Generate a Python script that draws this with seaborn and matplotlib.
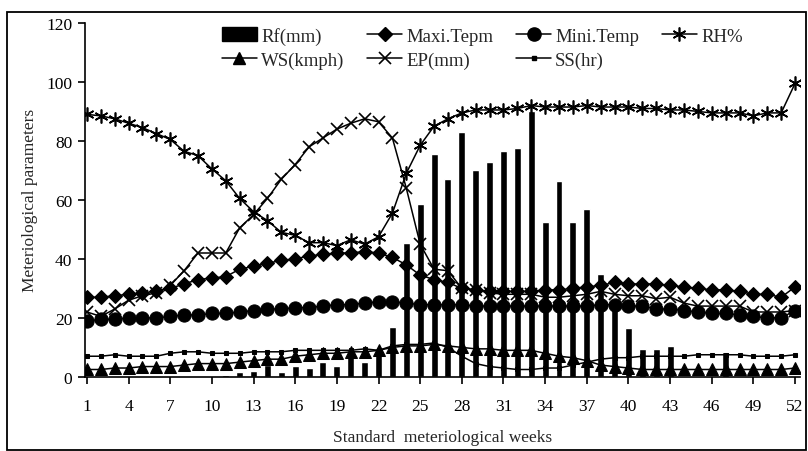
import matplotlib
matplotlib.use("Agg")
import matplotlib.pyplot as plt
from matplotlib.patches import Rectangle, Patch
from matplotlib.lines import Line2D
import seaborn as sns
import numpy as np

weeks = list(range(1, 53))

rf = [0, 0, 0, 0, 0, 0, 0, 0, 0, 0, 0.5, 1.5, 2, 4, 1.5, 3.8, 3, 5, 3.8, 8.5,
      5, 9, 17, 45.5, 58.5, 75.5, 67, 83, 70, 73, 76.5, 77.5, 90, 52.5, 66.5, 52.5,
      57, 35, 24, 16.5, 9.5, 9.5, 10.3, 0, 0, 0, 8.6, 0, 0, 0, 0, 0]

max_t = [27, 27, 27.5, 28, 28.5, 29, 30, 31.5, 33, 33.5, 34, 36.5, 37.5, 38.5, 39.5, 40,
         41, 41.5, 42, 42, 42.5, 42, 40.5, 38, 34.5, 33, 32, 30, 29.5, 29, 29, 29, 29,
         29.5, 29.5, 30, 30.5, 31, 32, 31.5, 31.5, 31.5, 31, 30.5, 30, 29.5, 29.5, 29,
         28, 28, 27, 30.5]

min_t = [19, 19.5, 19.5, 20, 20, 20, 20.5, 21, 21, 21.5, 21.5, 22, 22.5, 23, 23, 23.5,
         23.5, 24, 24.5, 24.5, 25, 25.5, 25.5, 25, 24.5, 24.5, 24.5, 24.5, 24, 24, 24, 24,
         24, 24, 24, 24, 24, 24.5, 24.5, 24, 24, 23, 23, 22.5, 22, 21.5, 21.5, 21, 20.5,
         20, 20, 22.5]

rh = [89, 88.5, 87.5, 86, 84.5, 82.5, 80.5, 76.5, 75, 70.5, 66.5, 60.5, 56, 53, 49, 48,
      45.5, 45.5, 44.5, 46.5, 45, 47.5, 55.5, 69, 78.5, 85, 87.5, 89.5, 90.5, 90.5, 90.5,
      91, 92, 91.5, 91.5, 91.5, 92, 91.5, 91.5, 91.5, 91, 91, 90.5, 90.5, 90, 89.5, 89.5,
      89.5, 88.5, 89.5, 89.5, 99.5]

ws = [2.5, 2.5, 3, 3, 3.5, 3.5, 3.5, 4, 4.5, 4.5, 4.5, 5, 5.5, 6, 6, 7, 7.5, 8, 8, 8.5,
      8.5, 9, 10, 10.5, 10.5, 11, 10.5, 10, 9.5, 9.5, 9, 9, 9, 8, 7, 6.5, 5.5, 4, 3.5, 3,
      2.5, 2.5, 2.5, 2.5, 2.5, 2.5, 2.5, 2.5, 2.5, 2.5, 2.5, 3]

ep = [22, 20.5, 23, 26, 27.5, 28.5, 31, 36, 42, 42, 42, 50.5, 55, 60.5, 67, 72, 78, 81,
      84, 86, 87.5, 86.5, 81, 64, 45, 36.5, 36, 30, 29.5, 28.5, 28, 28, 28, 27, 27, 27.5,
      28, 29, 28, 27.5, 27.5, 26.5, 27, 25, 24, 24, 24, 24, 22, 22, 22, 22.5]

ss = [7, 7, 7.5, 7, 7, 7, 8, 8.5, 8.5, 8, 8, 8, 8.5, 8.5, 8.5, 9, 9, 9, 9, 9, 9.5, 9,
      10.5, 11, 11, 11.5, 10, 7, 4.5, 3.5, 3, 2.5, 2.5, 3, 3, 4, 5, 6, 6.5, 6.5, 7, 7, 7,
      7, 7.5, 7.5, 7.5, 7.5, 7, 7, 7, 7.5]

xtick_vals = list(range(1, 53, 3))

sns.set_style("ticks")
plt.rcParams["font.family"] = ["Liberation Serif", "DejaVu Serif"]

fig = plt.figure(figsize=(8.08, 4.52), dpi=100)
ax = fig.add_axes([0.105, 0.164, 0.885, 0.783])

sns.barplot(x=weeks, y=rf, native_scale=True, width=0.5, color="black",
            saturation=1, ax=ax)

lw = 1.1
common = dict(color="black", linewidth=lw, markeredgecolor="black", ax=ax)
asterisk = (6, 2, 0)
sns.lineplot(x=weeks, y=max_t, marker="D", markersize=7, markerfacecolor="black", **common)
sns.lineplot(x=weeks, y=min_t, marker="o", markersize=9.5, markerfacecolor="black", **common)
sns.lineplot(x=weeks, y=rh, marker=asterisk, markersize=10, markeredgewidth=1.2, **common)
sns.lineplot(x=weeks, y=ws, marker="^", markersize=8, markerfacecolor="black", **common)
sns.lineplot(x=weeks, y=ep, marker="x", markersize=8, markeredgewidth=1.2, **common)
sns.lineplot(x=weeks, y=ss, marker="s", markersize=2.5, markerfacecolor="black", **common)

ax.set_xlim(0.85, 52.35)
ax.set_ylim(0, 120)
ax.set_yticks(range(0, 121, 20))
ax.set_xticks(xtick_vals)
ax.set_xticklabels([str(v) for v in xtick_vals])
for s in ["top", "right"]:
    ax.spines[s].set_visible(False)
for s in ["left", "bottom"]:
    ax.spines[s].set_color("black")
    ax.spines[s].set_linewidth(1.2)
ax.tick_params(axis="both", direction="out", length=5, width=1.2, colors="black",
               labelsize=12.5, pad=4)
ax.tick_params(axis="x", pad=10)
ax.set_xlabel("Standard  meteriological weeks", fontsize=12.5, labelpad=11)
ax.set_ylabel("Meteriological parameters", fontsize=12.5, labelpad=6)
ax.grid(False)

def lh(marker, ms, filled=True, mew=1.0):
    return Line2D([0], [0], color="black", lw=lw, marker=marker, markersize=ms,
                  markerfacecolor="black" if filled else "none",
                  markeredgecolor="black", markeredgewidth=mew)

h_rf = Patch(facecolor="black", edgecolor="black")
h_max = lh("D", 7)
h_min = lh("o", 9.5)
h_rh = lh(asterisk, 10, mew=1.2)
h_ws = lh("^", 8)
h_ep = lh("x", 8, mew=1.2)
h_ss = lh("s", 2.5)

handles = [h_rf, h_ws, h_max, h_ep, h_min, h_ss, h_rh]
labels = ["Rf(mm)", "WS(kmph)", "Maxi.Tepm", "EP(mm)", "Mini.Temp", "SS(hr)", "RH%"]
fig.legend(handles, labels, ncol=4, loc="upper left",
           bbox_to_anchor=(0.265, 0.955), frameon=False, fontsize=13.5,
           handlelength=1.9, handleheight=0.8, handletextpad=0.2,
           columnspacing=1.2, labelspacing=0.35, borderaxespad=0)

fig.patches.append(Rectangle((0.009, 0.003), 0.988, 0.968, transform=fig.transFigure,
                             fill=False, edgecolor="black", linewidth=1.3))

fig.savefig("out.png", dpi=100)
